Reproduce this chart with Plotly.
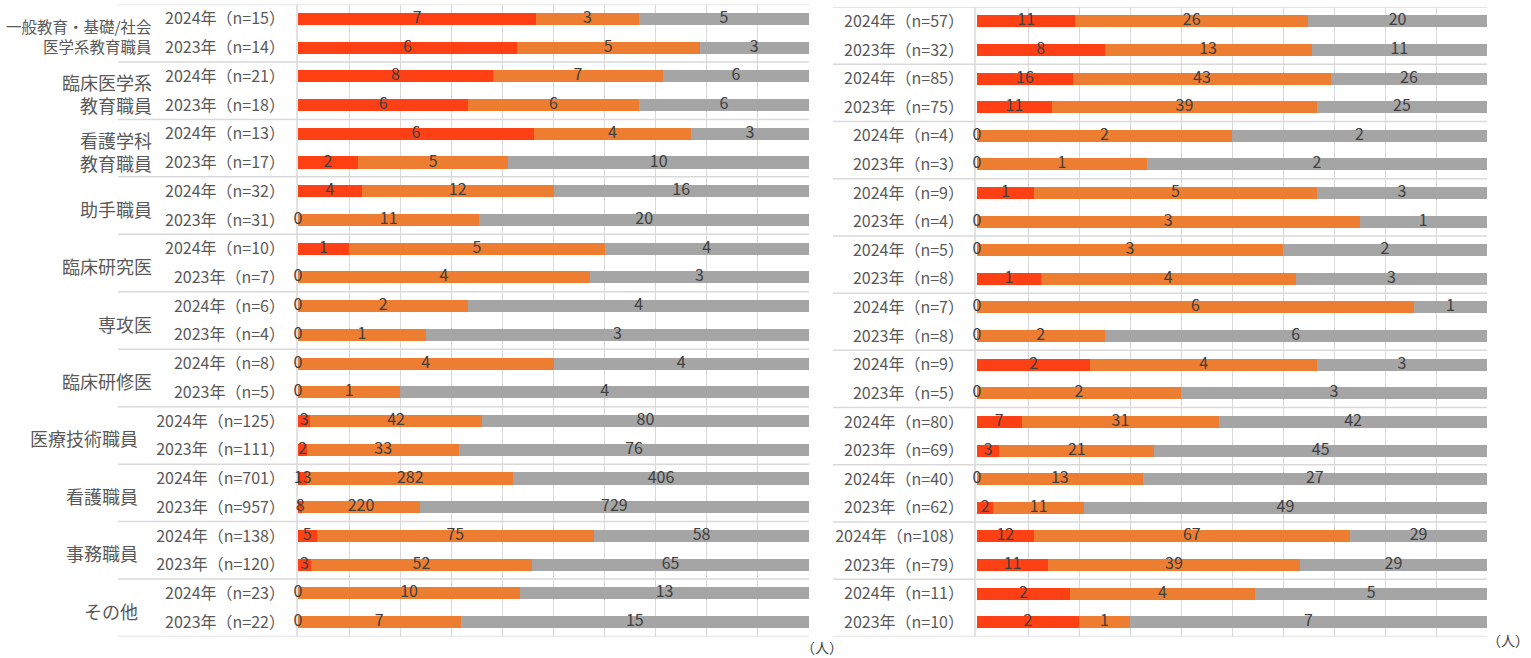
import plotly.graph_objects as go

# ---------------- data ----------------
groups_left = ["一般教育・基礎/社会|医学系教育職員", "臨床医学系|教育職員", "看護学科|教育職員",
               "助手職員", "臨床研究医", "専攻医", "臨床研修医",
               "医療技術職員", "看護職員", "事務職員", "その他"]
labels_left = ["2024年（n=15）", "2023年（n=14）", "2024年（n=21）", "2023年（n=18）",
               "2024年（n=13）", "2023年（n=17）", "2024年（n=32）", "2023年（n=31）",
               "2024年（n=10）", "2023年（n=7）", "2024年（n=6）", "2023年（n=4）",
               "2024年（n=8）", "2023年（n=5）", "2024年（n=125）", "2023年（n=111）",
               "2024年（n=701）", "2023年（n=957）", "2024年（n=138）", "2023年（n=120）",
               "2024年（n=23）", "2023年（n=22）"]
red_left = [7, 6, 8, 6, 6, 2, 4, 0, 1, 0, 0, 0, 0, 0, 3, 2, 13, 8, 5, 3, 0, 0]
orange_left = [3, 5, 7, 6, 4, 5, 12, 11, 5, 4, 2, 1, 4, 1, 42, 33, 282, 220, 75, 52, 10, 7]
gray_left = [5, 3, 6, 6, 3, 10, 16, 20, 4, 3, 4, 3, 4, 4, 80, 76, 406, 729, 58, 65, 13, 15]

labels_right = ["2024年（n=57）", "2023年（n=32）", "2024年（n=85）", "2023年（n=75）",
                "2024年（n=4）", "2023年（n=3）", "2024年（n=9）", "2023年（n=4）",
                "2024年（n=5）", "2023年（n=8）", "2024年（n=7）", "2023年（n=8）",
                "2024年（n=9）", "2023年（n=5）", "2024年（n=80）", "2023年（n=69）",
                "2024年（n=40）", "2023年（n=62）", "2024年（n=108）", "2023年（n=79）",
                "2024年（n=11）", "2023年（n=10）"]
red_right = [11, 8, 16, 11, 0, 0, 1, 0, 0, 1, 0, 0, 2, 0, 7, 3, 0, 2, 12, 11, 2, 2]
orange_right = [26, 13, 43, 39, 2, 1, 5, 3, 3, 4, 6, 2, 4, 2, 31, 21, 13, 11, 67, 39, 4, 1]
gray_right = [20, 11, 26, 25, 2, 2, 3, 1, 2, 3, 1, 6, 3, 3, 42, 45, 27, 49, 29, 29, 5, 7]

unit_label = "（人）"

# ---------------- style ----------------
W, H = 1531, 658
C_RED, C_ORANGE, C_GRAY = "#FF4015", "#ED7D31", "#A5A5A5"
GRID = "#D9D9D9"
TXT = "#404040"
LBL = "#595959"
FONT = "Noto Sans CJK JP"

fig = go.Figure()


def add_panel(red, orange, gray, xa, ya):
    n = len(red)
    ys = list(range(n))
    tot = [r + o + g for r, o, g in zip(red, orange, gray)]
    pr = [100 * r / t for r, t in zip(red, tot)]
    po = [100 * o / t for o, t in zip(orange, tot)]
    pg = [100 * g / t for g, t in zip(gray, tot)]
    for vals, col in ((pr, C_RED), (po, C_ORANGE), (pg, C_GRAY)):
        fig.add_trace(go.Bar(x=vals, y=ys, orientation="h", marker=dict(color=col, line=dict(width=0)),
                             width=0.42, xaxis=xa, yaxis=ya, hoverinfo="skip", showlegend=False))
    tx, ty, tt = [], [], []
    for i in range(n):
        c0 = 0
        for p, v in ((pr[i], red[i]), (po[i], orange[i]), (pg[i], gray[i])):
            tx.append(c0 + p / 2)
            ty.append(i)
            tt.append(str(v))
            c0 += p
    fig.add_trace(go.Scatter(x=tx, y=ty, mode="text", text=tt,
                             textfont=dict(size=16, color=TXT, family=FONT),
                             textposition="middle center", xaxis=xa, yaxis=ya,
                             hoverinfo="skip", showlegend=False, cliponaxis=False))


add_panel(red_left, orange_left, gray_left, "x", "y")
add_panel(red_right, orange_right, gray_right, "x2", "y2")

xl0, xl1 = 298 / W, 809 / W
xr0, xr1 = 977 / W, 1487 / W
yl = [1 - 636.5 / H, 1 - 4.5 / H]
yr = [1 - 636.5 / H, 1 - 7.0 / H]

xcommon = dict(range=[0, 100], dtick=10, showgrid=True, gridcolor=GRID, gridwidth=1,
               showticklabels=False, zeroline=False, showline=False, fixedrange=True)
ycommon = dict(range=[21.5, -0.5], tickmode="array", ticks="", showgrid=False, zeroline=False,
               showline=False, tickfont=dict(size=16, color=LBL, family=FONT),
               ticklabelstandoff=12, fixedrange=True)

fig.update_layout(
    width=W, height=H, margin=dict(l=0, r=0, t=0, b=0),
    paper_bgcolor="white", plot_bgcolor="white", barmode="stack", bargap=0.5,
    font=dict(family=FONT, color=TXT),
    xaxis=dict(domain=[xl0, xl1], anchor="y", **xcommon),
    xaxis2=dict(domain=[xr0, xr1], anchor="y2", **xcommon),
    yaxis=dict(domain=yl, anchor="x", tickvals=list(range(22)), ticktext=labels_left, **ycommon),
    yaxis2=dict(domain=yr, anchor="x2", tickvals=list(range(22)), ticktext=labels_right, **ycommon),
)

shapes = []
# separators (label table + faint lines across plot)
for k in range(12):
    yv = -0.5 + 2 * k
    shapes.append(dict(type="line", xref="paper", yref="y", x0=118 / W, x1=809 / W, y0=yv, y1=yv,
                       line=dict(color=GRID, width=1.5), layer="below"))
    shapes.append(dict(type="line", xref="paper", yref="y2", x0=833 / W, x1=1487 / W, y0=yv, y1=yv,
                       line=dict(color=GRID, width=1.5), layer="below"))
shapes.append(dict(type="line", xref="paper", yref="y", x0=297 / W, x1=297 / W, y0=-0.5, y1=21.5,
                   line=dict(color=GRID, width=1.5), layer="below"))
shapes.append(dict(type="line", xref="paper", yref="y2", x0=975 / W, x1=975 / W, y0=-0.5, y1=21.5,
                   line=dict(color=GRID, width=1.5), layer="below"))
fig.update_layout(shapes=shapes)

ann = []
for gi, g in enumerate(groups_left):
    yc = 2 * gi + 0.5
    xr = 154 / W if gi < 7 else 140 / W
    parts = g.split("|")
    size = 15.5 if gi == 0 else 18
    ann.append(dict(text="<br>".join(parts), xref="paper", yref="y", x=xr, y=yc, xanchor="right",
                    yanchor="middle", yshift=-3, showarrow=False, align="right",
                    font=dict(size=size, color=LBL, family=FONT)))
ann.append(dict(text=unit_label, xref="paper", yref="paper", x=822 / W, y=1 - 647 / H,
                xanchor="center", yanchor="middle", showarrow=False,
                font=dict(size=14, color=TXT, family=FONT)))
ann.append(dict(text=unit_label, xref="paper", yref="paper", x=1508 / W, y=1 - 640 / H,
                xanchor="center", yanchor="middle", showarrow=False,
                font=dict(size=14, color=TXT, family=FONT)))
fig.update_layout(annotations=ann)

fig.write_html("out.html", config={"displayModeBar": False},
               post_script="document.body.style.margin='0';document.body.style.overflow='hidden';")
